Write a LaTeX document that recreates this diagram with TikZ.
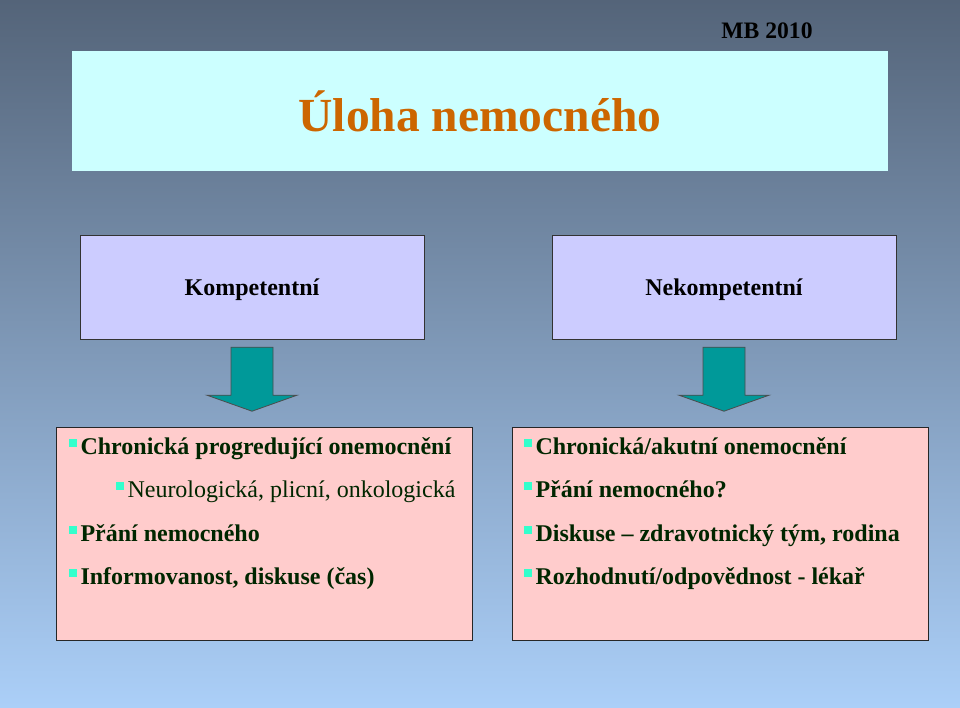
\documentclass[tikz,border=0pt]{standalone}
\usepackage{fontspec}
\setmainfont{Liberation Serif}
\usetikzlibrary{positioning,calc}

\definecolor{bgtop}{HTML}{546479}
\definecolor{bgbot}{HTML}{ABCFF8}
\definecolor{titlebg}{HTML}{CCFFFF}
\definecolor{titlefg}{HTML}{CC6600}
\definecolor{headbg}{HTML}{CCCCFF}
\definecolor{listbg}{HTML}{FFCCCC}
\definecolor{listfg}{HTML}{002600}
\definecolor{arrowbg}{HTML}{009999}
\definecolor{bulletc}{HTML}{33FFCC}

\newcommand{\blt}{\textcolor{bulletc}{\rule[0.33em]{0.33em}{0.33em}}\hspace{0.15em}}

\tikzset{
	headbox/.style={rectangle, draw=black!80, fill=headbg, minimum width=344pt,
		minimum height=104pt, text depth=0pt, font=\fontsize{24}{28}\selectfont\bfseries},
	listbox/.style={rectangle, draw=black!85, fill=listbg, minimum width=416pt,
		minimum height=213pt},
	item/.style={anchor=base west, inner sep=0pt, text=listfg,
		font=\fontsize{24}{28}\selectfont\bfseries},
	subitem/.style={item, font=\fontsize{24}{28}\selectfont},
	downarrow/.style={draw=black!70, fill=arrowbg, line width=0.8pt}
}

\begin{document}
\begin{tikzpicture}[x=1pt,y=-1pt]
	\shade[top color=bgtop, bottom color=bgbot] (0,0) rectangle (960,707);
	\useasboundingbox (0,0) rectangle (960,707);

	\node (title) at (480,111) [rectangle, fill=titlebg, minimum width=816pt, minimum height=120pt,
		text=titlefg, font=\fontsize{47.5}{50}\selectfont\bfseries] {Úloha nemocného};
	\node (mb) at (767,31) [font=\fontsize{23.6}{26}\selectfont\bfseries] {MB 2010};

	\node (komp) at (252,287) [headbox] {Kompetentní};
	\node (nekomp) at (724,287) [headbox] {Nekompetentní};

	\node (chron) at (264,533.5) [listbox] {};
	\node (akut) at (720,533.5) [listbox] {};

	% block arrows
	\draw[downarrow] ($(komp.south)+(-21,8)$) -- ++(42,0) -- ++(0,48) -- ++(24,0)
		-- ($(komp.south)+(0,72)$) -- ++(-45,-16) -- ++(24,0) -- cycle;
	\draw[downarrow] ($(nekomp.south)+(-21,8)$) -- ++(42,0) -- ++(0,48) -- ++(24,0)
		-- ($(nekomp.south)+(0,72)$) -- ++(-45,-16) -- ++(24,0) -- cycle;

	\node (c1) at ([xshift=13pt,yshift=-28pt]chron.north west) [item] {\blt Chronická progredující onemocnění};
	\node (c2) at ([xshift=60pt,yshift=-71pt]chron.north west) [subitem] {\blt Neurologická, plicní, onkologická};
	\node (c3) at ([xshift=13pt,yshift=-115pt]chron.north west) [item] {\blt Přání nemocného};
	\node (c4) at ([xshift=13pt,yshift=-158pt]chron.north west) [item] {\blt Informovanost, diskuse (čas)};

	\node (a1) at ([xshift=12pt,yshift=-28pt]akut.north west) [item] {\blt Chronická/akutní onemocnění};
	\node (a2) at ([xshift=12pt,yshift=-71pt]akut.north west) [item] {\blt Přání nemocného?};
	\node (a3) at ([xshift=12pt,yshift=-115pt]akut.north west) [item] {\blt Diskuse – zdravotnický tým, rodina};
	\node (a4) at ([xshift=12pt,yshift=-158pt]akut.north west) [item] {\blt Rozhodnutí/odpovědnost - lékař};
\end{tikzpicture}
\end{document}
